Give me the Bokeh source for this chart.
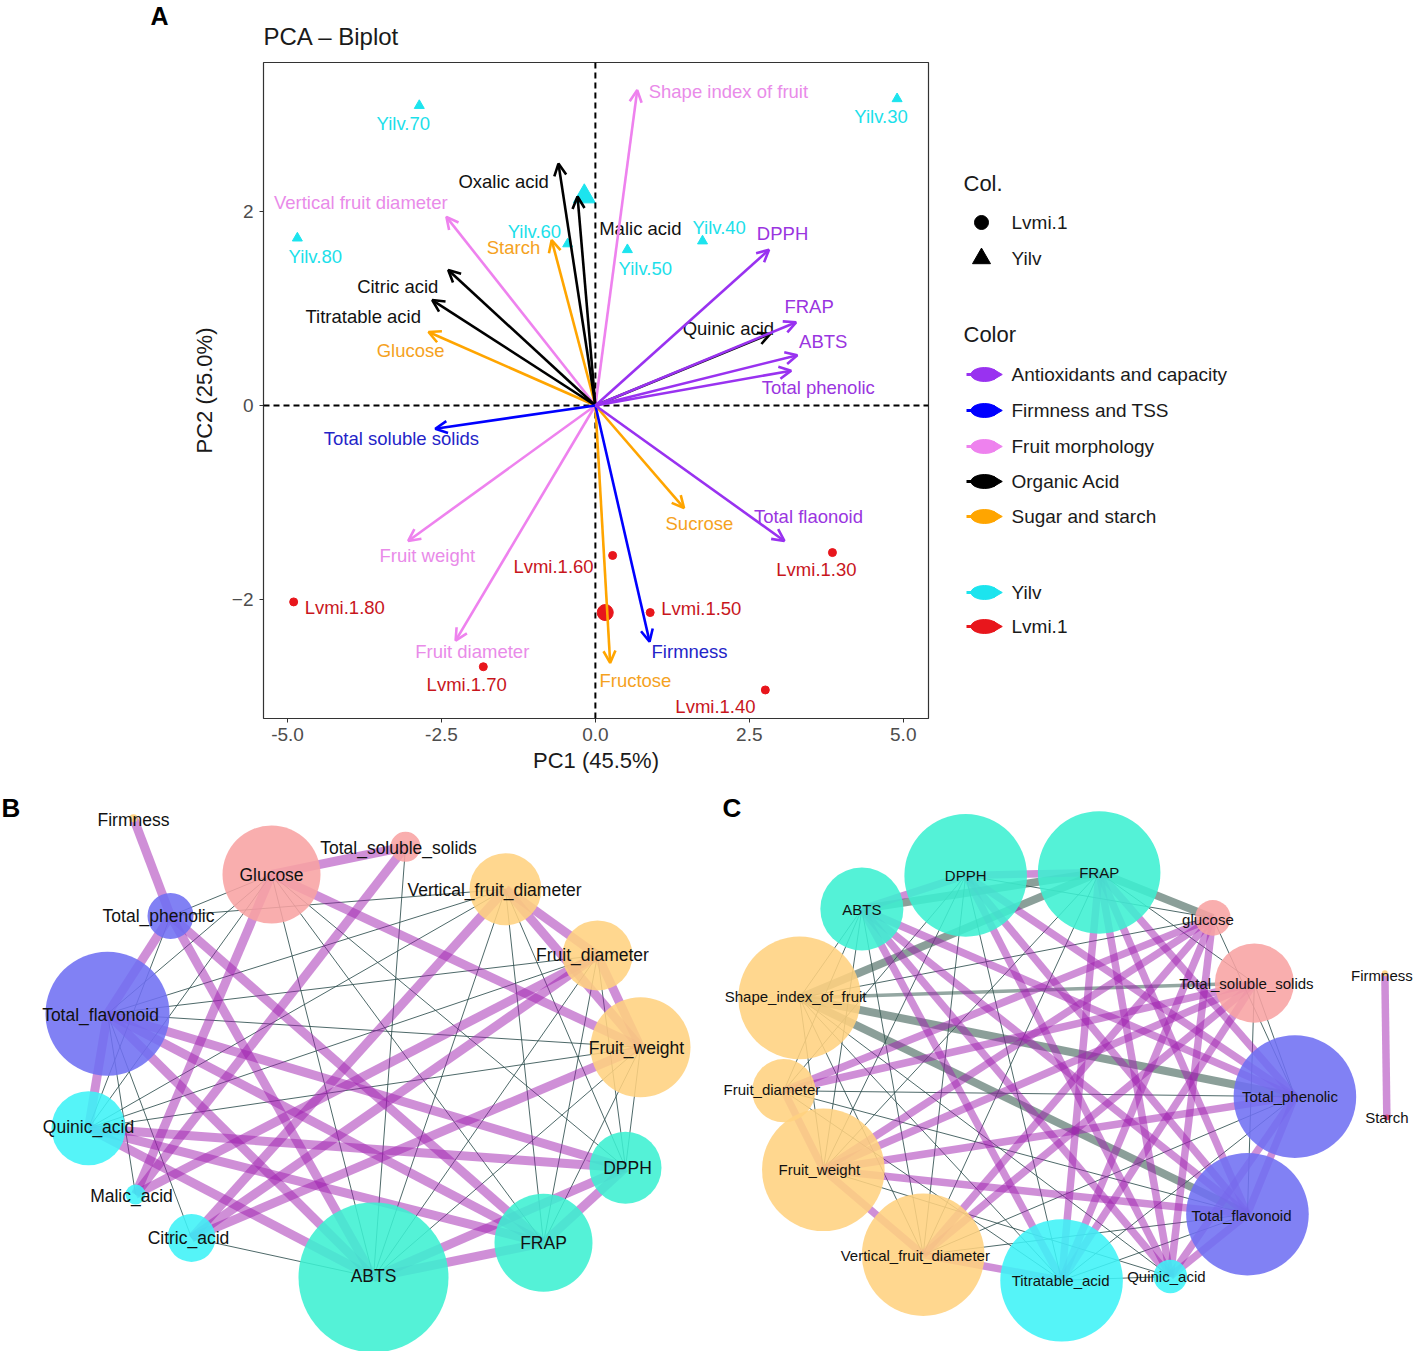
from bokeh.plotting import figure
from bokeh.models import (ColumnDataSource, Range1d, Arrow, OpenHead, Span,
                          FixedTicker, NumeralTickFormatter)
from bokeh.layouts import column, row
from bokeh.core.properties import value
from bokeh.embed import file_html
from bokeh.resources import INLINE

FONT = "Liberation Sans"

# ---------------- Panel A data (PCA biplot) ----------------
var_names = ["Shape index of fruit", "Oxalic acid", "Malic acid", "Vertical fruit diameter",
             "Starch", "Citric acid", "Titratable acid", "Glucose", "DPPH", "FRAP",
             "Quinic acid", "ABTS", "Total phenolic", "Total soluble solids", "Fruit weight",
             "Fruit diameter", "Fructose", "Firmness", "Sucrose", "Total flaonoid"]
var_pc1 = [0.68, -0.60, -0.29, -2.42, -0.71, -2.39, -2.65, -2.71, 2.82, 3.26,
           2.84, 3.28, 3.18, -2.60, -3.04, -2.27, 0.24, 0.88, 1.44, 3.07]
var_pc2 = [3.26, 2.50, 2.16, 1.95, 1.71, 1.40, 1.09, 0.76, 1.61, 0.86,
           0.74, 0.52, 0.36, -0.24, -1.40, -2.43, -2.66, -2.44, -1.06, -1.40]
var_group = ["Fruit morphology", "Organic Acid", "Organic Acid", "Fruit morphology",
             "Sugar and starch", "Organic Acid", "Organic Acid", "Sugar and starch",
             "Antioxidants and capacity", "Antioxidants and capacity", "Organic Acid",
             "Antioxidants and capacity", "Antioxidants and capacity", "Firmness and TSS",
             "Fruit morphology", "Fruit morphology", "Sugar and starch", "Firmness and TSS",
             "Sugar and starch", "Antioxidants and capacity"]
var_label_pc1 = [2.16, -1.49, 0.73, -3.81, -1.33, -3.21, -3.77, -3.00, 3.04, 3.47,
                 2.16, 3.70, 3.62, -3.15, -2.73, -2.00, 0.65, 1.53, 1.69, 3.46]
var_label_pc2 = [3.25, 2.32, 1.83, 2.10, 1.63, 1.23, 0.92, 0.57, 1.78, 1.02,
                 0.80, 0.66, 0.19, -0.34, -1.55, -2.54, -2.84, -2.54, -1.22, -1.15]

ind_names = ["Yilv.30", "Yilv.70", "Yilv.80", "Yilv.60", "Yilv.50", "Yilv.40",
             "Lvmi.1.30", "Lvmi.1.60", "Lvmi.1.80", "Lvmi.1.50", "Lvmi.1.70", "Lvmi.1.40"]
ind_pc1 = [4.90, -2.86, -4.84, -0.45, 0.52, 1.74, 3.85, 0.28, -4.90, 0.89, -1.82, 2.76]
ind_pc2 = [3.17, 3.10, 1.73, 1.67, 1.61, 1.70, -1.52, -1.55, -2.03, -2.14, -2.70, -2.94]
ind_group = ["Yilv"] * 6 + ["Lvmi.1"] * 6
ind_label_pc1 = [4.64, -3.12, -4.55, -0.99, 0.81, 2.01, 3.59, -0.68, -4.07, 1.72, -2.09, 1.95]
ind_label_pc2 = [2.99, 2.91, 1.54, 1.80, 1.42, 1.84, -1.70, -1.66, -2.09, -2.10, -2.88, -3.11]

centroid_group = ["Yilv", "Lvmi.1"]
centroid_pc1 = [-0.18, 0.16]
centroid_pc2 = [2.16, -2.14]

group_order = ["Antioxidants and capacity", "Firmness and TSS", "Fruit morphology",
               "Organic Acid", "Sugar and starch"]
group_color = {"Antioxidants and capacity": "#9932F0", "Firmness and TSS": "#0000FF",
               "Fruit morphology": "#EE82EE", "Organic Acid": "#000000",
               "Sugar and starch": "#FFA500"}
group_label_color = {"Antioxidants and capacity": "#9A35E0", "Firmness and TSS": "#2424C8",
                     "Fruit morphology": "#E98BE9", "Organic Acid": "#111111",
                     "Sugar and starch": "#F5A21E"}
ind_color = {"Yilv": "#1CE4EE", "Lvmi.1": "#E8161C"}
ind_label_color = {"Yilv": "#1CE0EA", "Lvmi.1": "#C8161D"}
ind_marker = {"Yilv": "triangle", "Lvmi.1": "circle"}

x_ticks = [-5.0, -2.5, 0.0, 2.5, 5.0]
y_ticks = [-2, 0, 2]

# ---------------- Panel B data (network) ----------------
B_nodes = ["Firmness", "Total_soluble_solids", "Glucose", "Vertical_fruit_diameter",
           "Total_phenolic", "Fruit_diameter", "Total_flavonoid", "Fruit_weight",
           "Quinic_acid", "DPPH", "Malic_acid", "FRAP", "Citric_acid", "ABTS"]
B_degree = [4, 15, 49, 36, 23, 35, 62, 50, 37, 36, 10, 49, 24, 75]
B_group = ["firm", "sugar", "sugar", "morph", "phen", "morph", "phen", "morph",
           "acid", "anti", "acid", "anti", "acid", "anti"]
B_pos_edges = [
    ("Firmness", "Total_phenolic"), ("Total_phenolic", "Total_flavonoid"),
    ("Total_flavonoid", "Quinic_acid"), ("Glucose", "Total_soluble_solids"),
    ("Total_soluble_solids", "Malic_acid"), ("Glucose", "Malic_acid"),
    ("Glucose", "Fruit_weight"), ("Vertical_fruit_diameter", "Fruit_diameter"),
    ("Vertical_fruit_diameter", "Fruit_weight"), ("Fruit_diameter", "Fruit_weight"),
    ("Vertical_fruit_diameter", "Citric_acid"), ("Fruit_diameter", "Citric_acid"),
    ("Fruit_weight", "Citric_acid"), ("Total_phenolic", "ABTS"), ("Total_phenolic", "FRAP"),
    ("Total_flavonoid", "DPPH"), ("Total_flavonoid", "FRAP"), ("Total_flavonoid", "ABTS"),
    ("Quinic_acid", "DPPH"), ("Quinic_acid", "FRAP"), ("Quinic_acid", "ABTS"),
    ("ABTS", "FRAP"), ("FRAP", "DPPH"), ("ABTS", "DPPH"), ("Fruit_diameter", "Malic_acid")]
B_thin_edges = [
    ("Total_phenolic", "Glucose"), ("Total_flavonoid", "Glucose"),
    ("Total_flavonoid", "Vertical_fruit_diameter"), ("Total_flavonoid", "Fruit_diameter"),
    ("Total_flavonoid", "Fruit_weight"), ("Total_flavonoid", "Citric_acid"),
    ("Quinic_acid", "Glucose"), ("Quinic_acid", "Total_phenolic"),
    ("Quinic_acid", "Fruit_diameter"), ("Quinic_acid", "Fruit_weight"),
    ("Quinic_acid", "Vertical_fruit_diameter"), ("Citric_acid", "ABTS"),
    ("Glucose", "ABTS"), ("Glucose", "FRAP"), ("Glucose", "DPPH"),
    ("Total_soluble_solids", "ABTS"), ("Vertical_fruit_diameter", "ABTS"),
    ("Vertical_fruit_diameter", "FRAP"), ("Vertical_fruit_diameter", "DPPH"),
    ("Fruit_diameter", "ABTS"), ("Fruit_diameter", "FRAP"), ("Fruit_diameter", "DPPH"),
    ("Fruit_weight", "ABTS"), ("Fruit_weight", "FRAP"), ("Fruit_weight", "DPPH"),
    ("Total_phenolic", "Vertical_fruit_diameter"), ("Malic_acid", "Total_flavonoid")]

# ---------------- Panel C data (network) ----------------
C_nodes = ["ABTS", "DPPH", "FRAP", "glucose", "Total_soluble_solids", "Total_phenolic",
           "Total_flavonoid", "Quinic_acid", "Titratable_acid", "Vertical_fruit_diameter",
           "Fruit_weight", "Fruit_diameter", "Shape_index_of_fruit", "Firmness", "Starch"]
C_degree = [42, 62, 62, 18, 40, 62, 62, 17, 62, 62, 62, 32, 62, 3, 3]
C_group = ["anti", "anti", "anti", "sugar", "sugar", "phen", "phen", "acid", "acid",
           "morph", "morph", "morph", "morph", "firm", "starch"]
C_pos_edges = [
    ("DPPH", "FRAP"), ("ABTS", "DPPH"), ("DPPH", "Total_phenolic"),
    ("DPPH", "Total_flavonoid"), ("DPPH", "Quinic_acid"), ("FRAP", "Total_phenolic"),
    ("FRAP", "Total_flavonoid"), ("FRAP", "Quinic_acid"), ("FRAP", "Titratable_acid"),
    ("ABTS", "Total_phenolic"), ("ABTS", "Total_flavonoid"), ("ABTS", "Quinic_acid"),
    ("ABTS", "Titratable_acid"), ("glucose", "Fruit_weight"), ("glucose", "Fruit_diameter"),
    ("glucose", "Vertical_fruit_diameter"), ("glucose", "Titratable_acid"),
    ("Total_soluble_solids", "Fruit_weight"), ("Total_soluble_solids", "Vertical_fruit_diameter"),
    ("Total_soluble_solids", "Titratable_acid"), ("Total_soluble_solids", "Fruit_diameter"),
    ("Total_phenolic", "Fruit_weight"), ("Total_phenolic", "Total_flavonoid"),
    ("Total_flavonoid", "Quinic_acid"), ("Total_phenolic", "Quinic_acid"),
    ("Fruit_weight", "Vertical_fruit_diameter"), ("Vertical_fruit_diameter", "Titratable_acid"),
    ("Fruit_diameter", "Fruit_weight"), ("glucose", "Quinic_acid"),
    ("Total_flavonoid", "Fruit_weight"), ("Firmness", "Starch")]
C_neg_edges = [
    ("Shape_index_of_fruit", "Total_phenolic"), ("Shape_index_of_fruit", "Total_flavonoid"),
    ("Shape_index_of_fruit", "FRAP"), ("ABTS", "FRAP"), ("FRAP", "glucose")]
C_neg_weak_edges = [("Shape_index_of_fruit", "Total_soluble_solids")]
C_thin_edges = [
    ("ABTS", "Fruit_weight"), ("ABTS", "Vertical_fruit_diameter"), ("ABTS", "Fruit_diameter"),
    ("DPPH", "Fruit_weight"), ("DPPH", "Vertical_fruit_diameter"), ("DPPH", "Titratable_acid"),
    ("DPPH", "Fruit_diameter"), ("FRAP", "Vertical_fruit_diameter"), ("FRAP", "Fruit_weight"),
    ("Shape_index_of_fruit", "Titratable_acid"), ("Shape_index_of_fruit", "Quinic_acid"),
    ("Shape_index_of_fruit", "Vertical_fruit_diameter"), ("Shape_index_of_fruit", "glucose"),
    ("Fruit_diameter", "Total_phenolic"), ("Fruit_diameter", "Total_flavonoid"),
    ("Fruit_diameter", "Titratable_acid"), ("Fruit_weight", "Quinic_acid"),
    ("Vertical_fruit_diameter", "Total_phenolic"), ("Vertical_fruit_diameter", "Total_flavonoid"),
    ("Titratable_acid", "Total_phenolic"), ("Titratable_acid", "Total_flavonoid"),
    ("glucose", "Total_phenolic"), ("Total_soluble_solids", "Total_phenolic"),
    ("Total_soluble_solids", "Total_flavonoid"), ("DPPH", "glucose"),
    ("FRAP", "Total_soluble_solids"), ("Titratable_acid", "Quinic_acid"),
    ("Shape_index_of_fruit", "Fruit_weight"), ("ABTS", "Shape_index_of_fruit")]

node_color = {"firm": "#FFD27A", "sugar": "#F8A3A3", "morph": "#FFD27F", "phen": "#7070F2",
              "acid": "#3EF3F7", "anti": "#3CF0D2", "starch": "#E0407A"}

# ---------------- Layout (pixel positions of the network drawings) ----------------
B_layout = {"Firmness": (133, 818), "Total_soluble_solids": (405, 847), "Glucose": (271, 875),
            "Vertical_fruit_diameter": (505, 890), "Total_phenolic": (170, 917),
            "Fruit_diameter": (597, 957), "Total_flavonoid": (107, 1016),
            "Fruit_weight": (640, 1050), "Quinic_acid": (88, 1132), "DPPH": (625, 1172),
            "Malic_acid": (135, 1199), "FRAP": (543, 1248), "Citric_acid": (191, 1243),
            "ABTS": (373, 1283)}
B_label_layout = {"Firmness": (133, 820), "Total_soluble_solids": (398, 848),
                  "Glucose": (271, 876), "Vertical_fruit_diameter": (494, 891),
                  "Total_phenolic": (158, 917), "Fruit_diameter": (592, 957),
                  "Total_flavonoid": (100, 1017), "Fruit_weight": (636, 1051),
                  "Quinic_acid": (88, 1131), "DPPH": (627, 1172), "Malic_acid": (131, 1201),
                  "FRAP": (543, 1248), "Citric_acid": (188, 1243), "ABTS": (373, 1282)}
C_layout = {"ABTS": (863, 910), "DPPH": (968, 876), "FRAP": (1103, 873), "glucose": (1218, 919),
            "Total_soluble_solids": (1260, 985), "Total_phenolic": (1301, 1100),
            "Total_flavonoid": (1253, 1219), "Quinic_acid": (1175, 1282),
            "Titratable_acid": (1065, 1286), "Vertical_fruit_diameter": (925, 1260),
            "Fruit_weight": (824, 1174), "Fruit_diameter": (784, 1094),
            "Shape_index_of_fruit": (800, 1000), "Firmness": (1392, 975), "Starch": (1394, 1121)}
C_label_layout = {"ABTS": (863, 910), "DPPH": (968, 876), "FRAP": (1103, 873),
                  "glucose": (1213, 921), "Total_soluble_solids": (1252, 985),
                  "Total_phenolic": (1296, 1100), "Total_flavonoid": (1247, 1220),
                  "Quinic_acid": (1171, 1282), "Titratable_acid": (1064, 1286),
                  "Vertical_fruit_diameter": (917, 1261), "Fruit_weight": (820, 1174),
                  "Fruit_diameter": (772, 1093), "Shape_index_of_fruit": (796, 999),
                  "Firmness": (1389, 977), "Starch": (1394, 1121)}


def blank(w, h, xr, yr, top=0, bottom=0):
    p = figure(width=w, height=h, x_range=Range1d(*xr), y_range=Range1d(*yr),
               output_backend="svg", toolbar_location=None, x_axis_type=None, y_axis_type=None,
               min_border=0, min_border_top=top, min_border_bottom=bottom,
               outline_line_color=None)
    p.grid.visible = False
    return p


# ================= Header (panel letter + title) =================
pH = blank(1416, 60, (0, 1416), (60, 0))
pH.text([150], [15], ["A"], text_font=value(FONT), text_font_size="25px", text_font_style="bold",
        text_color="black", text_align="left", text_baseline="middle")
pH.text([263], [36], ["PCA – Biplot"], text_font=value(FONT), text_font_size="24px",
        text_color="#1A1A1A", text_align="left", text_baseline="middle")

# ================= Panel A figure =================
pA = figure(width=943, height=728, x_range=Range1d(-5.39, 5.41), y_range=Range1d(-3.235, 3.545),
            output_backend="svg", toolbar_location=None,
            min_border_left=263, min_border_right=15, min_border_top=2, min_border_bottom=70)
pA.grid.visible = False
pA.outline_line_color = "#333333"
pA.outline_line_width = 1.2

for ax in (pA.xaxis[0], pA.yaxis[0]):
    ax.axis_line_color = None
    ax.major_tick_line_color = "#333333"
    ax.major_tick_out = 4
    ax.major_tick_in = 0
    ax.minor_tick_line_color = None
    ax.major_label_text_font = FONT
    ax.major_label_text_font_size = "19px"
    ax.major_label_text_color = "#4D4D4D"
    ax.axis_label_text_font = FONT
    ax.axis_label_text_font_size = "22px"
    ax.axis_label_text_font_style = "normal"
    ax.axis_label_text_color = "#1A1A1A"
pA.xaxis.ticker = FixedTicker(ticks=x_ticks)
pA.xaxis.formatter = NumeralTickFormatter(format="0.0")
pA.yaxis.ticker = FixedTicker(ticks=y_ticks)
pA.xaxis.axis_label = "PC1 (45.5%)"
pA.yaxis.axis_label = "PC2 (25.0%)"
pA.xaxis.major_label_standoff = 5
pA.xaxis.axis_label_standoff = 4
pA.yaxis.major_label_standoff = 6
pA.yaxis.axis_label_standoff = 12

pA.add_layout(Span(location=0, dimension="height", line_color="black", line_width=2, line_dash="6 4"))
pA.add_layout(Span(location=0, dimension="width", line_color="black", line_width=2, line_dash="6 4"))

for g in ["Yilv", "Lvmi.1"]:
    idx = [i for i, gg in enumerate(ind_group) if gg == g]
    src = ColumnDataSource(dict(x=[ind_pc1[i] for i in idx], y=[ind_pc2[i] for i in idx]))
    pA.scatter("x", "y", source=src, marker=ind_marker[g], size=10 if g == "Yilv" else 8,
               fill_color=ind_color[g], line_color=ind_color[g])
    ci = centroid_group.index(g)
    pA.scatter([centroid_pc1[ci]], [centroid_pc2[ci]], marker=ind_marker[g],
               size=22 if g == "Yilv" else 16, fill_color=ind_color[g], line_color=ind_color[g])
    lsrc = ColumnDataSource(dict(x=[ind_label_pc1[i] for i in idx], y=[ind_label_pc2[i] for i in idx],
                                 t=[ind_names[i] for i in idx]))
    pA.text("x", "y", "t", source=lsrc, text_font=value(FONT), text_font_size="18.5px",
            text_color=ind_label_color[g], text_align="center", text_baseline="middle")

for g in group_order:
    idx = [i for i, gg in enumerate(var_group) if gg == g]
    lsrc = ColumnDataSource(dict(x=[var_label_pc1[i] for i in idx], y=[var_label_pc2[i] for i in idx],
                                 t=[var_names[i] for i in idx]))
    pA.text("x", "y", "t", source=lsrc, text_font=value(FONT), text_font_size="18.5px",
            text_color=group_label_color[g], text_align="center", text_baseline="middle")

for g in ["Fruit morphology", "Sugar and starch", "Organic Acid", "Firmness and TSS",
          "Antioxidants and capacity"]:
    idx = [i for i, gg in enumerate(var_group) if gg == g]
    src = ColumnDataSource(dict(x0=[0.0] * len(idx), y0=[0.0] * len(idx),
                                x1=[var_pc1[i] for i in idx], y1=[var_pc2[i] for i in idx]))
    pA.add_layout(Arrow(end=OpenHead(size=12, line_color=group_color[g], line_width=2.6),
                        source=src, x_start="x0", y_start="y0", x_end="x1", y_end="y1",
                        line_color=group_color[g], line_width=2.6))

# ================= Legend figure (page pixel coordinates; frame = page y 62..718) =================
pL = blank(473, 728, (943, 1416), (718, 62), top=2, bottom=70)
shape_keys = ["Lvmi.1", "Yilv"]
pL.text([963, 963], [183, 334], ["Col.", "Color"], text_font=value(FONT), text_font_size="22px",
        text_color="#1A1A1A", text_align="left", text_baseline="middle")
pL.scatter([981], [222], marker="circle", size=14, color="black")
pL.scatter([981], [258], marker="triangle", size=18, color="black")
pL.text([1011, 1011], [222, 258], shape_keys, text_font=value(FONT), text_font_size="19px",
        text_color="#1A1A1A", text_align="left", text_baseline="middle")
key_labels = group_order + ["Yilv", "Lvmi.1"]
key_colors = [group_color[g] for g in group_order] + [ind_color["Yilv"], ind_color["Lvmi.1"]]
key_y = [374, 410, 446, 481, 516, 592, 626]
ksrc = ColumnDataSource(dict(y=key_y, c=key_colors, t=key_labels))
pL.segment(x0=966, x1=990, y0="y", y1="y", source=ksrc, line_color="c", line_width=3)
pL.ellipse(x=984, y="y", width=27, height=14, source=ksrc, fill_color="c", line_color="c")
pL.scatter(x=996, y="y", source=ksrc, marker="triangle", angle=-1.5708, size=10,
           fill_color="c", line_color="c")
pL.text(x=1011, y="y", text="t", source=ksrc, text_font=value(FONT), text_font_size="19px",
        text_color="#1A1A1A", text_align="left", text_baseline="middle")


# ================= Network figures =================
def network(nodes, degree, groups, layout, label_layout, edge_sets, xr, yr, w, h, font_size):
    p = blank(w, h, xr, yr)
    for edges, color, alpha, lw in edge_sets:
        src = ColumnDataSource(dict(x0=[layout[a][0] for a, b in edges], y0=[layout[a][1] for a, b in edges],
                                    x1=[layout[b][0] for a, b in edges], y1=[layout[b][1] for a, b in edges]))
        p.segment("x0", "y0", "x1", "y1", source=src, line_color=color, line_alpha=alpha,
                  line_width=lw)
    nsrc = ColumnDataSource(dict(x=[layout[n][0] for n in nodes], y=[layout[n][1] for n in nodes],
                                 r=degree, c=[node_color[g] for g in groups]))
    p.circle("x", "y", radius="r", source=nsrc, fill_color="c", fill_alpha=0.88, line_color=None)
    lsrc = ColumnDataSource(dict(x=[label_layout[n][0] for n in nodes],
                                 y=[label_layout[n][1] for n in nodes], t=nodes))
    p.text("x", "y", "t", source=lsrc, text_font=value(FONT), text_font_size=font_size,
           text_color="#111111", text_align="center", text_baseline="middle")
    return p


PINK = "#A020B0"
DARK = "#2F4F4F"
GREY = "#3D5F55"

pB = network(B_nodes, B_degree, B_group, B_layout, B_label_layout,
             [(B_thin_edges, DARK, 0.85, 1.0), (B_pos_edges, PINK, 0.5, 9)],
             (0, 720), (1358, 788), 720, 563, "17.5px")
pB.text([1], [808], ["B"], text_font=value(FONT), text_font_size="26px", text_font_style="bold",
        text_color="black", text_align="left", text_baseline="middle")

pC = network(C_nodes, C_degree, C_group, C_layout, C_label_layout,
             [(C_thin_edges, DARK, 0.85, 1.0), (C_neg_weak_edges, GREY, 0.55, 3.5),
              (C_neg_edges, GREY, 0.6, 8), (C_pos_edges, PINK, 0.5, 7.5)],
             (720, 1424), (1358, 788), 696, 563, "15px")
pC.text([722], [808], ["C"], text_font=value(FONT), text_font_size="26px", text_font_style="bold",
        text_color="black", text_align="left", text_baseline="middle")

layout = column(pH, row(pA, pL), row(pB, pC))
open("out.html", "w").write(file_html(layout, INLINE))
